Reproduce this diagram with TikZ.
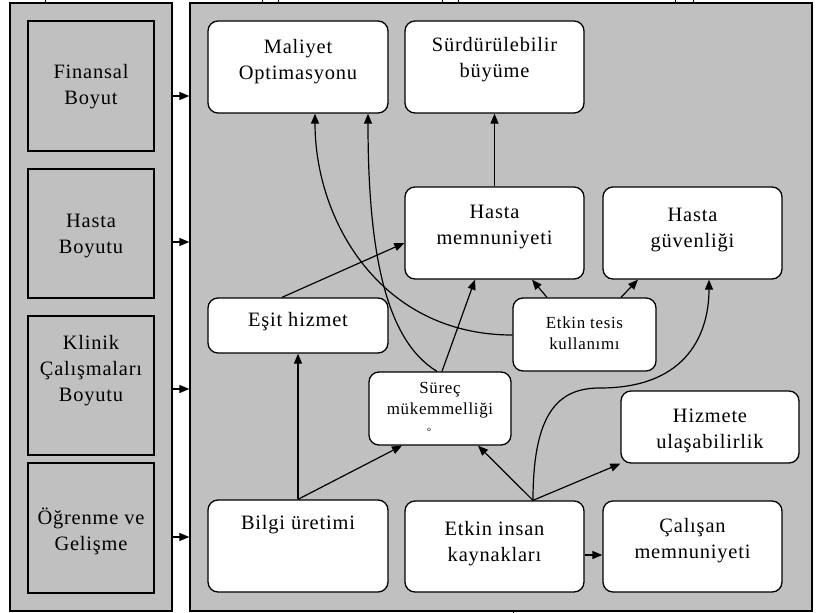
\documentclass[tikz,border=0pt]{standalone}
\usepackage{fontspec}
\setmainfont{Liberation Serif}[LetterSpace=4]
\usetikzlibrary{arrows.meta}
\definecolor{panelgray}{RGB}{192,192,192}
\begin{document}
\begin{tikzpicture}[x=1bp,y=-1bp,
  panel/.style={draw=black, fill=panelgray, line width=1.3bp, inner sep=0pt},
  dimbox/.style={draw=black, fill=panelgray, line width=1.4bp, inner sep=0pt, minimum width=126bp},
  box/.style={draw=black, fill=white, rounded corners=10bp, line width=1.3bp, inner sep=0pt},
  lbl/.style={align=center, inner sep=0pt, font=\fontsize{20.5}{26}\selectfont},
  slbl/.style={align=center, inner sep=0pt, font=\fontsize{17}{21}\selectfont},
  arr/.style={-{Triangle[length=10bp,width=8bp]}, line width=1.2bp},
  tick/.style={line width=0.8bp}
]
\useasboundingbox (0,0) rectangle (816,613);
\fill[white] (0,0) rectangle (816,613);

% panels
\node[panel, minimum width=162bp, minimum height=608bp] (lp) at (91,307) {};
\node[panel, minimum width=622bp, minimum height=608bp] (rp) at (501,307) {};

% small ticks at the edges
\foreach \tx in {45,262,278,442,458,675,693} \draw[tick] (\tx,0) -- (\tx,3);
\draw[tick] (513,611) -- (513,613);

% left dimension boxes
\node[dimbox, minimum height=130bp] (d1) at (91,86) {};
\node[lbl] (d1t) at (91,87) {Finansal\\Boyut};
\node[dimbox, minimum height=129bp] (d2) at (91,233.5) {};
\node[lbl] (d2t) at (91,236) {Hasta\\Boyutu};
\node[dimbox, minimum height=139bp] (d3) at (91,385.5) {};
\node[lbl] (d3t) at (91,371) {Klinik\\Çalışmaları\\Boyutu};
\node[dimbox, minimum height=130bp] (d4) at (91,528) {};
\node[lbl] (d4t) at (91,531) {Öğrenme ve\\Gelişme};

% arrows between panels
\foreach \ay in {96,242,389,537}
  \draw[arr] (lp.east |- 0,\ay) -- (rp.west |- 0,\ay);

% right panel boxes
\node[box, minimum width=180bp, minimum height=92bp] (mal) at (298,67) {};
\node[lbl] (malt) at (298,62) {Maliyet\\Optimasyonu};
\node[box, minimum width=179bp, minimum height=92bp] (sur) at (494.5,67) {};
\node[lbl] (surt) at (494.5,60) {Sürdürülebilir\\büyüme};
\node[box, minimum width=179bp, minimum height=92bp] (hm) at (494.5,233) {};
\node[lbl] (hmt) at (494.5,227) {Hasta\\memnuniyeti};
\node[box, minimum width=179bp, minimum height=92bp] (hg) at (692.5,233) {};
\node[lbl] (hgt) at (692.5,230) {Hasta\\güvenliği};
\node[box, minimum width=180bp, minimum height=55bp] (esit) at (298,325.5) {};
\node[lbl] (esitt) at (298,322) {Eşit hizmet};
\node[box, minimum width=143bp, minimum height=73bp] (tesis) at (584.5,334.5) {};
\node[slbl] (tesist) at (584.5,333) {Etkin tesis\\kullanımı};
\node[box, minimum width=142bp, minimum height=73bp] (surec) at (440,408.5) {};
\node[slbl] (surect) at (440,409) {Süreç\\mükemmelliği\\\hspace*{-22bp}{\fontsize{11}{11}\selectfont °}};
\node[box, minimum width=178bp, minimum height=72bp] (hiz) at (710,427) {};
\node[lbl] (hizt) at (710,431) {Hizmete\\ulaşabilirlik};
\node[box, minimum width=180bp, minimum height=92bp] (bilgi) at (298,546) {};
\node[lbl] (bilgit) at (298,525) {Bilgi üretimi};
\node[box, minimum width=179bp, minimum height=91bp] (eik) at (494.5,546.5) {};
\node[lbl] (eikt) at (494.5,544) {Etkin insan\\kaynakları};
\node[box, minimum width=179bp, minimum height=91bp] (cal) at (692.5,546.5) {};
\node[lbl] (calt) at (692.5,541) {Çalışan\\memnuniyeti};

% connectors
\draw[arr] (hm.north) -- (sur.south);
\draw[arr] (esit.north -| 282,0) -- (hm.west |- 0,243);
\draw[arr] (bilgi.north) -- (esit.south);
\draw[arr] (bilgi.north) -- (surec.south -| 402,0);
\draw[arr] (eik.north -| 533,0) -- (surec.south -| 478,0);
\draw[arr] (eik.north -| 533,0) -- (hiz.south west);
\draw[arr] (eik.north -| 533,0) .. controls (533,410) and (560,388) .. (600,388)
   .. controls (690,388) and (709,330) .. (hg.south -| 709,0);
\draw[arr] (eik.east |- 0,555) -- (cal.west |- 0,555);
\draw[arr] (tesis.north -| 547,0) -- (hm.south -| 532,0);
\draw[arr] (tesis.north -| 621,0) -- (hg.south -| 638,0);
\draw[arr] (surec.north -| 442,0) -- (hm.south -| 475,0);
\draw[arr] (surec.north -| 437,0) .. controls (385,340) and (368,250) .. (mal.south -| 368,0);
\draw[arr] (tesis.west |- 0,335) .. controls (380,335) and (315,220) .. (mal.south -| 315,0);
\end{tikzpicture}
\end{document}
